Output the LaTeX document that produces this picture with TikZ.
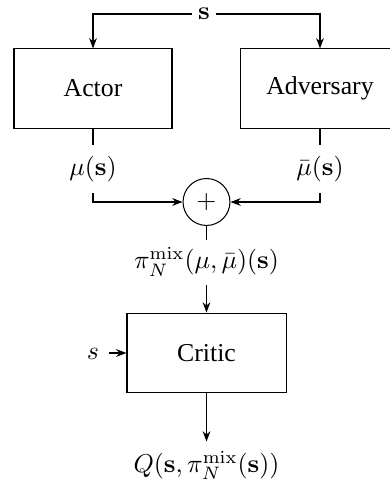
\documentclass[tikz,border=0pt]{standalone}
\usepackage[no-math]{fontspec}
\setmainfont{Liberation Serif}
\usetikzlibrary{arrows.meta}
\begin{document}
\begin{tikzpicture}[x=0.388pt,y=-0.388pt,
  blk/.style={draw, inner sep=0pt, minimum height=30.7pt},
  lab/.style={inner xsep=2pt, inner ysep=4.3pt, text height=7.5pt, text depth=2.5pt},
  arr/.style={-{Stealth[length=4pt,width=3pt]}},
  summ/.style={draw, circle, inner sep=0pt, minimum size=18.2pt}]
\useasboundingbox (0,0) rectangle (390,486);
\node[inner sep=2pt] (s) at (204,14) {$\mathbf{s}$};
\node[blk, minimum width=61.3pt] (actor) at (93,88.5) {Actor};
\node[blk, minimum width=62pt] (adv) at (320,88.5) {Adversary};
\node[lab] (mu) at (93,169) {$\mu(\mathbf{s})$};
\node[lab] (mub) at (320,169) {$\bar{\mu}(\mathbf{s})$};
\node[summ] (plus) at (206.5,202) {$+$};
\node[lab, inner ysep=3.6pt] (pi) at (206.5,262.5) {$\pi_N^{\mathrm{mix}}(\mu,\bar{\mu})(\mathbf{s})$};
\node[blk, minimum width=61.7pt, minimum height=31pt] (critic) at (206.5,353) {Critic};
\node[lab, inner xsep=3.6pt] (sin) at (93,353) {$s$};
\node[lab] (q) at (206.5,466) {$Q(\mathbf{s},\pi_N^{\mathrm{mix}}(\mathbf{s}))$};
\draw[arr] (s) -| (actor);
\draw[arr] (s) -| (adv);
\draw (actor) -- (mu);
\draw (adv) -- (mub);
\draw[arr] (mu) |- (plus);
\draw[arr] (mub) |- (plus);
\draw (plus) -- (pi);
\draw[arr] (pi) -- (critic);
\draw[arr] (sin) -- (critic);
\draw[arr] (critic) -- (q);
\end{tikzpicture}
\end{document}
